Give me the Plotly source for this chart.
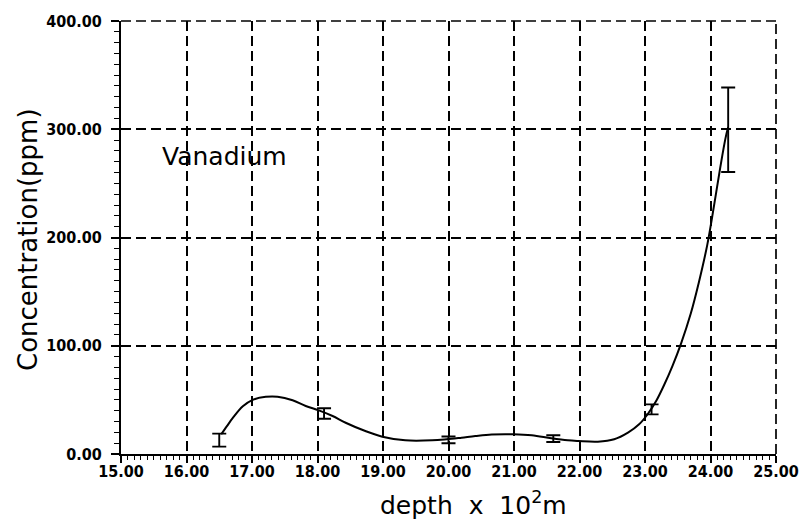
import plotly.graph_objects as go

# Measured samples: depth (x 10^2 m), vanadium concentration (ppm) and error
depth = [16.5, 18.1, 20.0, 21.6, 23.1, 24.27]
conc = [12.8, 37.4, 13.0, 14.2, 41.2, 299.5]
conc_err = [6.0, 4.8, 3.1, 3.1, 4.6, 39.0]

# Smoothed trend curve drawn through the samples
curve_depth = [16.53, 16.62, 16.71, 16.86, 17.01, 17.21, 17.39, 17.62, 17.82,
               18.02, 18.23, 18.43, 18.73, 18.99, 19.34, 19.75, 19.97, 20.20,
               20.41, 20.66, 20.99, 21.27, 21.57, 21.82, 21.98, 22.28, 22.53,
               22.74, 22.91, 23.04, 23.17, 23.29, 23.42, 23.55, 23.70, 23.82,
               23.95, 24.05, 24.15, 24.23, 24.27]
curve_conc = [18.2, 26.0, 33.5, 44.0, 50.0, 52.8, 52.9, 49.6, 44.3,
              40.3, 35.1, 28.9, 21.2, 16.0, 12.6, 12.6, 13.6, 15.1,
              16.6, 18.0, 18.2, 17.3, 14.5, 12.6, 12.0, 11.4, 13.6,
              19.7, 27.4, 36.7, 48.9, 63.5, 81.5, 102.0, 130.0, 158.0,
              193.0, 228.0, 265.0, 292.0, 302.0]

x_ticks = [15, 16, 17, 18, 19, 20, 21, 22, 23, 24, 25]
y_ticks = [0, 100, 200, 300, 400]

INK = "black"
TICK_FONT = dict(family="DejaVu Sans Condensed", size=16, color=INK,
                 weight="bold")

fig = go.Figure()

fig.add_trace(go.Scatter(
    x=curve_depth, y=curve_conc, mode="lines",
    line=dict(color=INK, width=2, shape="spline", smoothing=1.0),
    hoverinfo="skip", showlegend=False,
))

fig.add_trace(go.Scatter(
    x=depth, y=conc, mode="markers",
    marker=dict(size=1, color="rgba(0,0,0,0)"),
    error_y=dict(type="data", array=conc_err, visible=True,
                 color=INK, thickness=1.9, width=7),
    showlegend=False,
))

grid_style = dict(showgrid=True, gridcolor=INK, gridwidth=1.7,
                  griddash="10px,5px")

fig.update_xaxes(
    range=[15, 25], tickvals=x_ticks, tickformat=".2f",
    ticks="outside", ticklen=7, tickwidth=1.7, tickcolor=INK,
    showline=True, linecolor=INK, linewidth=1.9, zeroline=False,
    tickfont=TICK_FONT, ticklabelstandoff=-5,
    minor=dict(dtick=0.1, ticks="outside", ticklen=4, tickwidth=1.3,
               tickcolor=INK, showgrid=False),
    **grid_style,
)
fig.update_yaxes(
    range=[0, 400], tickvals=y_ticks, tickformat=".2f",
    ticks="outside", ticklen=8, tickwidth=1.7, tickcolor=INK,
    showline=True, linecolor=INK, linewidth=1.9, zeroline=False,
    tickfont=TICK_FONT, ticklabelstandoff=6,
    minor=dict(dtick=10, ticks="outside", ticklen=5, tickwidth=1.3,
               tickcolor=INK, showgrid=False),
    **grid_style,
)

# Dashed frame on the top and right edges, like the interior grid
frame = dict(type="line", xref="paper", yref="paper",
             line=dict(color=INK, width=1.7, dash="10px,5px"))
fig.add_shape(x0=0, x1=1, y0=1, y1=1, **frame)
fig.add_shape(x0=1, x1=1, y0=0, y1=1, **frame)

fig.add_annotation(
    text="Vanadium", x=15.59, y=275, xref="x", yref="y",
    xanchor="left", yanchor="middle", showarrow=False,
    font=dict(family="DejaVu Sans", size=25, color=INK),
)
fig.add_annotation(
    text="depth\u00a0\u00a0x\u00a0\u00a010<sup>2</sup>m",
    x=0.538, y=-0.115, xref="paper", yref="paper",
    xanchor="center", yanchor="middle", showarrow=False,
    font=dict(family="DejaVu Sans", size=25, color=INK),
)
fig.add_annotation(
    text="Concentration(ppm)", textangle=-90,
    x=-0.143, y=0.495, xref="paper", yref="paper",
    xanchor="center", yanchor="middle", showarrow=False,
    font=dict(family="DejaVu Sans", size=26, color=INK),
)

fig.update_layout(
    width=811, height=520,
    margin=dict(l=121, r=32, t=20, b=66),
    paper_bgcolor="white", plot_bgcolor="white",
    showlegend=False,
)

fig.write_html("out.html")
